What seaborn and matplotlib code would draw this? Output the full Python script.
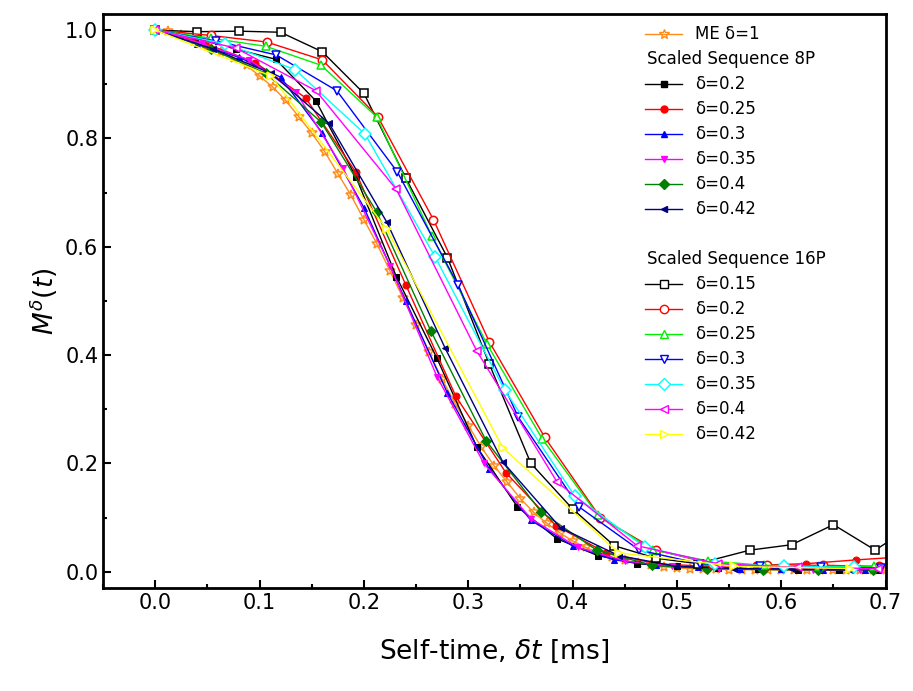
import numpy as np
import matplotlib
matplotlib.use("Agg")
import matplotlib.pyplot as plt
import seaborn as sns
from matplotlib.lines import Line2D
from matplotlib.ticker import MultipleLocator

# ME delta=1
me_t = [0, .0125, .025, .0375, .05, .0625, .075, .0875, .1, .1125, .125, .1375, .15, .1625, .175, .1875,
        .2, .2125, .225, .2375, .25, .2625, .275, .2875, .3, .3125, .325, .3375, .35, .3625, .375, .3875,
        .4, .4125, .425, .4375, .45, .4625, .475, .4875, .5, .5125, .525, .5375, .55, .5625, .575, .5875,
        .6, .6125, .625, .6375, .65, .6625, .675, .6875, .7]
me_m = [1.0, .998, .99, .98, .97, .96, .948, .935, .915, .895, .87, .84, .81, .775, .735, .695,
        .65, .605, .555, .505, .455, .405, .355, .31, .27, .23, .195, .165, .135, .11, .09, .072,
        .057, .045, .035, .027, .021, .016, .012, .009, .007, .006, .005, .005, .004, .004, .004, .004,
        .003, .003, .003, .003, .003, .003, .003, .003, .003]

# Scaled sequence 8P
p8_labels = ["δ=0.2", "δ=0.25", "δ=0.3", "δ=0.35", "δ=0.4", "δ=0.42"]
p8_t = [
    [0, .0385, .077, .1155, .154, .1925, .231, .27, .308, .347, .385, .424, .462, .5, .539, .578, .616, .655, .693],
    [0, .048, .096, .144, .192, .24, .288, .336, .384, .432, .48, .528, .576, .624, .672, .72],
    [0, .04, .08, .12, .16, .2, .24, .28, .32, .36, .4, .44, .48, .52, .56, .6, .64, .68],
    [0, .045, .09, .135, .18, .225, .27, .315, .36, .405, .45, .495, .54, .585, .63, .675],
    [0, .053, .106, .159, .212, .264, .317, .37, .423, .476, .529, .582, .635, .688],
    [0, .0555, .111, .1665, .222, .2775, .333, .3885, .444, .4995, .555, .6105, .666],
]
p8_m = [
    [1, .985, .965, .946, .869, .728, .545, .394, .231, .12, .061, .03, .015, .01, .007, .005, .004, .003, .003],
    [1, .975, .94, .875, .738, .53, .324, .183, .085, .035, .015, .01, .012, .015, .022, .028],
    [1, .975, .95, .913, .81, .672, .5, .33, .19, .095, .048, .022, .012, .008, .006, .005, .004, .004],
    [1, .975, .945, .885, .745, .565, .36, .2, .098, .045, .02, .01, .006, .005, .004, .004],
    [1, .965, .92, .83, .665, .445, .242, .11, .04, .012, .006, .004, .004, .004],
    [1, .965, .92, .828, .645, .414, .203, .081, .03, .01, .006, .005, .004],
]
p8_colors = ["black", "red", "blue", "magenta", "green", "navy"]
p8_markers = ["s", "o", "^", "v", "D", "<"]

# Scaled sequence 16P
p16_labels = ["δ=0.15", "δ=0.2", "δ=0.25", "δ=0.3", "δ=0.35", "δ=0.4", "δ=0.42"]
p16_t = [
    [0, .04, .08, .12, .16, .2, .24, .28, .32, .36, .4, .44, .48, .52, .57, .61, .65, .69, .73],
    [0, .0533, .1066, .16, .2133, .2666, .32, .3733, .4266, .48, .5333, .5866, .64, .6933],
    [0, .053, .106, .159, .212, .265, .318, .371, .424, .477, .53, .583, .636, .689],
    [0, .058, .116, .174, .232, .29, .348, .406, .464, .522, .58, .638, .696],
    [0, .067, .134, .201, .268, .335, .402, .469, .536, .603, .67],
    [0, .077, .154, .231, .308, .385, .462, .539, .616, .693],
    [0, .111, .222, .333, .444, .555, .666],
]
p16_m = [
    [1, .997, .998, .996, .96, .883, .727, .58, .384, .2, .116, .048, .025, .015, .04, .05, .087, .04, .09],
    [1, .99, .978, .945, .84, .65, .425, .248, .1, .04, .015, .012, .012, .01],
    [1, .985, .97, .935, .84, .62, .42, .245, .105, .04, .02, .012, .01, .01],
    [1, .98, .954, .888, .738, .53, .285, .12, .04, .015, .01, .008, .007],
    [1, .975, .927, .808, .582, .335, .14, .046, .015, .01, .008],
    [1, .967, .888, .706, .408, .166, .048, .015, .008, .006],
    [1, .915, .632, .229, .035, .01, .006],
]
p16_colors = ["black", "red", "#00ee00", "blue", "cyan", "magenta", "yellow"]
p16_markers = ["s", "o", "^", "v", "D", "<", ">"]

fig = plt.figure(figsize=(9.13, 6.91), dpi=100)
ax = fig.add_axes([0.113, 0.149, 0.857, 0.831])

sns.lineplot(x=me_t, y=me_m, ax=ax, sort=False, color="#ff8c1a", marker="*", markersize=7,
             markerfacecolor="none", markeredgecolor="#ff8c1a", markeredgewidth=1.1, linewidth=1)

for t, m, c, mk in zip(p8_t, p8_m, p8_colors, p8_markers):
    sns.lineplot(x=t, y=m, ax=ax, sort=False, color=c, marker=mk, markersize=5,
                 markeredgecolor=c, markerfacecolor=c, linewidth=1)

for t, m, c, mk in zip(p16_t, p16_m, p16_colors, p16_markers):
    sns.lineplot(x=t, y=m, ax=ax, sort=False, color=c, marker=mk, markersize=6,
                 markeredgecolor=c, markerfacecolor="white", markeredgewidth=1.1, linewidth=1)

handles = [Line2D([], [], color="#ff8c1a", marker="*", markerfacecolor="none", markersize=7, lw=1)]
labels = ["ME δ=1"]
handles.append(Line2D([], [], linestyle="none"))
labels.append("Scaled Sequence 8P")
for lab, c, mk in zip(p8_labels, p8_colors, p8_markers):
    handles.append(Line2D([], [], color=c, marker=mk, markerfacecolor=c, markersize=5, lw=1))
    labels.append(lab)
handles.append(Line2D([], [], linestyle="none"))
labels.append(" ")
handles.append(Line2D([], [], linestyle="none"))
labels.append("Scaled Sequence 16P")
for lab, c, mk in zip(p16_labels, p16_colors, p16_markers):
    handles.append(Line2D([], [], color=c, marker=mk, markerfacecolor="white", markersize=6, lw=1))
    labels.append(lab)

leg = ax.legend(handles, labels, loc="upper right", frameon=False, fontsize=12,
                handlelength=2.2, labelspacing=0.42, borderaxespad=0.3)
for txt in leg.get_texts():
    if txt.get_text().startswith("Scaled"):
        txt.set_x(-48)

ax.set_xlim(-0.05, 0.7)
ax.set_ylim(-0.03, 1.03)
ax.xaxis.set_major_locator(MultipleLocator(0.1))
ax.xaxis.set_minor_locator(MultipleLocator(0.05))
ax.yaxis.set_major_locator(MultipleLocator(0.2))
ax.yaxis.set_minor_locator(MultipleLocator(0.1))
ax.tick_params(which="both", direction="in", width=1.5, labelsize=15, top=False, right=False)
ax.tick_params(which="major", length=6)
ax.tick_params(which="minor", length=3)
ax.set_xticks([0, .1, .2, .3, .4, .5, .6, .7])
ax.set_xticklabels(["0.0", "0.1", "0.2", "0.3", "0.4", "0.5", "0.6", "0.7"])
ax.set_yticks([0, .2, .4, .6, .8, 1.0])
ax.set_yticklabels(["0.0", "0.2", "0.4", "0.6", "0.8", "1.0"])
for s in ax.spines.values():
    s.set_linewidth(2)
ax.set_xlabel(r"Self-time, $\delta t$ [ms]", fontsize=19, labelpad=18)
ax.set_ylabel(r"$M^{\delta}(t)$", fontsize=19, labelpad=4)

fig.savefig("out.png", dpi=100)
